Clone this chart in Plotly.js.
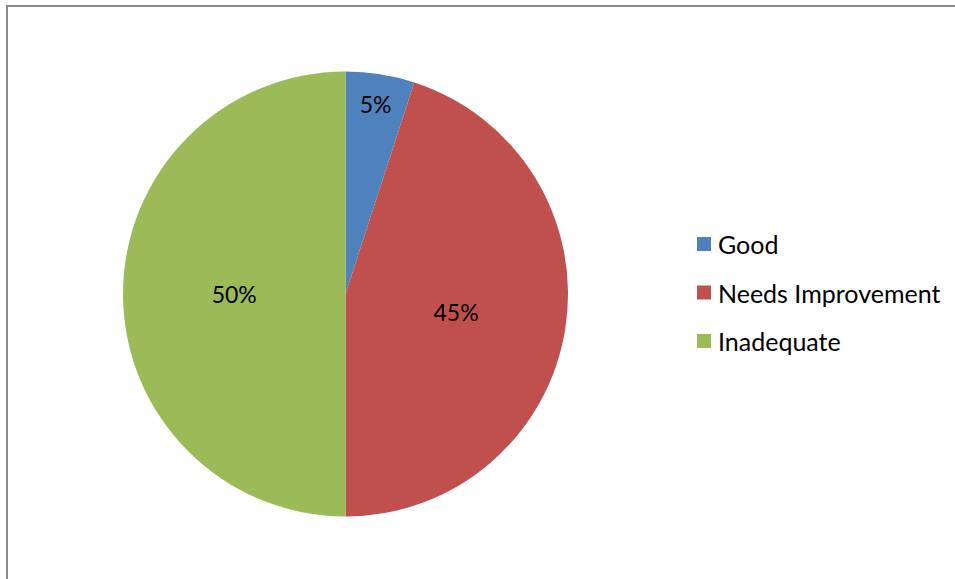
<!DOCTYPE html>
<html>
<head>
<meta charset="utf-8">
<script src="https://cdn.plot.ly/plotly-3.0.1.min.js"></script>
<style>
html,body{margin:0;padding:0;background:#fff;overflow:hidden;}
#chart{width:955px;height:579px;}
</style>
</head>
<body>
<div id="chart"></div>
<script>
var categories = ["Good", "Needs Improvement", "Inadequate"];
var values = [5, 45, 50];
var colors = ["#4F81BD", "#C0504D", "#9BBB59"];

var W = 955, H = 579;
var cx = 345.5, cy = 294, R = 222.5;
var FONT = "Lato, 'Open Sans', sans-serif";

var trace = {
  type: "pie",
  labels: categories,
  values: values,
  sort: false,
  direction: "clockwise",
  rotation: 0,
  marker: {colors: colors, line: {width: 0}},
  textinfo: "percent",
  texttemplate: "%{percent:.0%}",
  textposition: "inside",
  insidetextorientation: "horizontal",
  insidetextfont: {family: FONT, size: 23, color: "#000"},
  hoverinfo: "label+percent",
  domain: {
    x: [(cx - R) / W, (cx + R) / W],
    y: [1 - (cy + R) / H, 1 - (cy - R) / H]
  },
  showlegend: false
};

// legend built from categories / colors
var legendX = 697, legendTop = 244, legendStep = 48.5, sq = 14;
var shapes = [{
  type: "rect", xref: "paper", yref: "paper",
  x0: 7 / W, x1: 1.2, y0: -0.2, y1: 1 - 6 / H,
  line: {color: "#898989", width: 2}, fillcolor: "rgba(0,0,0,0)"
}];
var annotations = [];
categories.forEach(function (c, i) {
  var yc = legendTop + i * legendStep;
  shapes.push({
    type: "rect", xref: "paper", yref: "paper",
    x0: legendX / W, x1: (legendX + sq) / W,
    y0: 1 - (yc + sq / 2) / H, y1: 1 - (yc - sq / 2) / H,
    fillcolor: colors[i], line: {width: 0}
  });
  annotations.push({
    xref: "paper", yref: "paper",
    x: (legendX + sq + 5) / W, y: 1 - yc / H,
    xanchor: "left", yanchor: "middle",
    text: c, showarrow: false,
    font: {family: FONT, size: 25, color: "#000"}
  });
});

var layout = {
  width: W, height: H,
  margin: {l: 0, r: 0, t: 0, b: 0},
  paper_bgcolor: "#fff",
  showlegend: false,
  shapes: shapes,
  annotations: annotations
};

Plotly.newPlot("chart", [trace], layout, {displayModeBar: false, staticPlot: true});
</script>
</body>
</html>
